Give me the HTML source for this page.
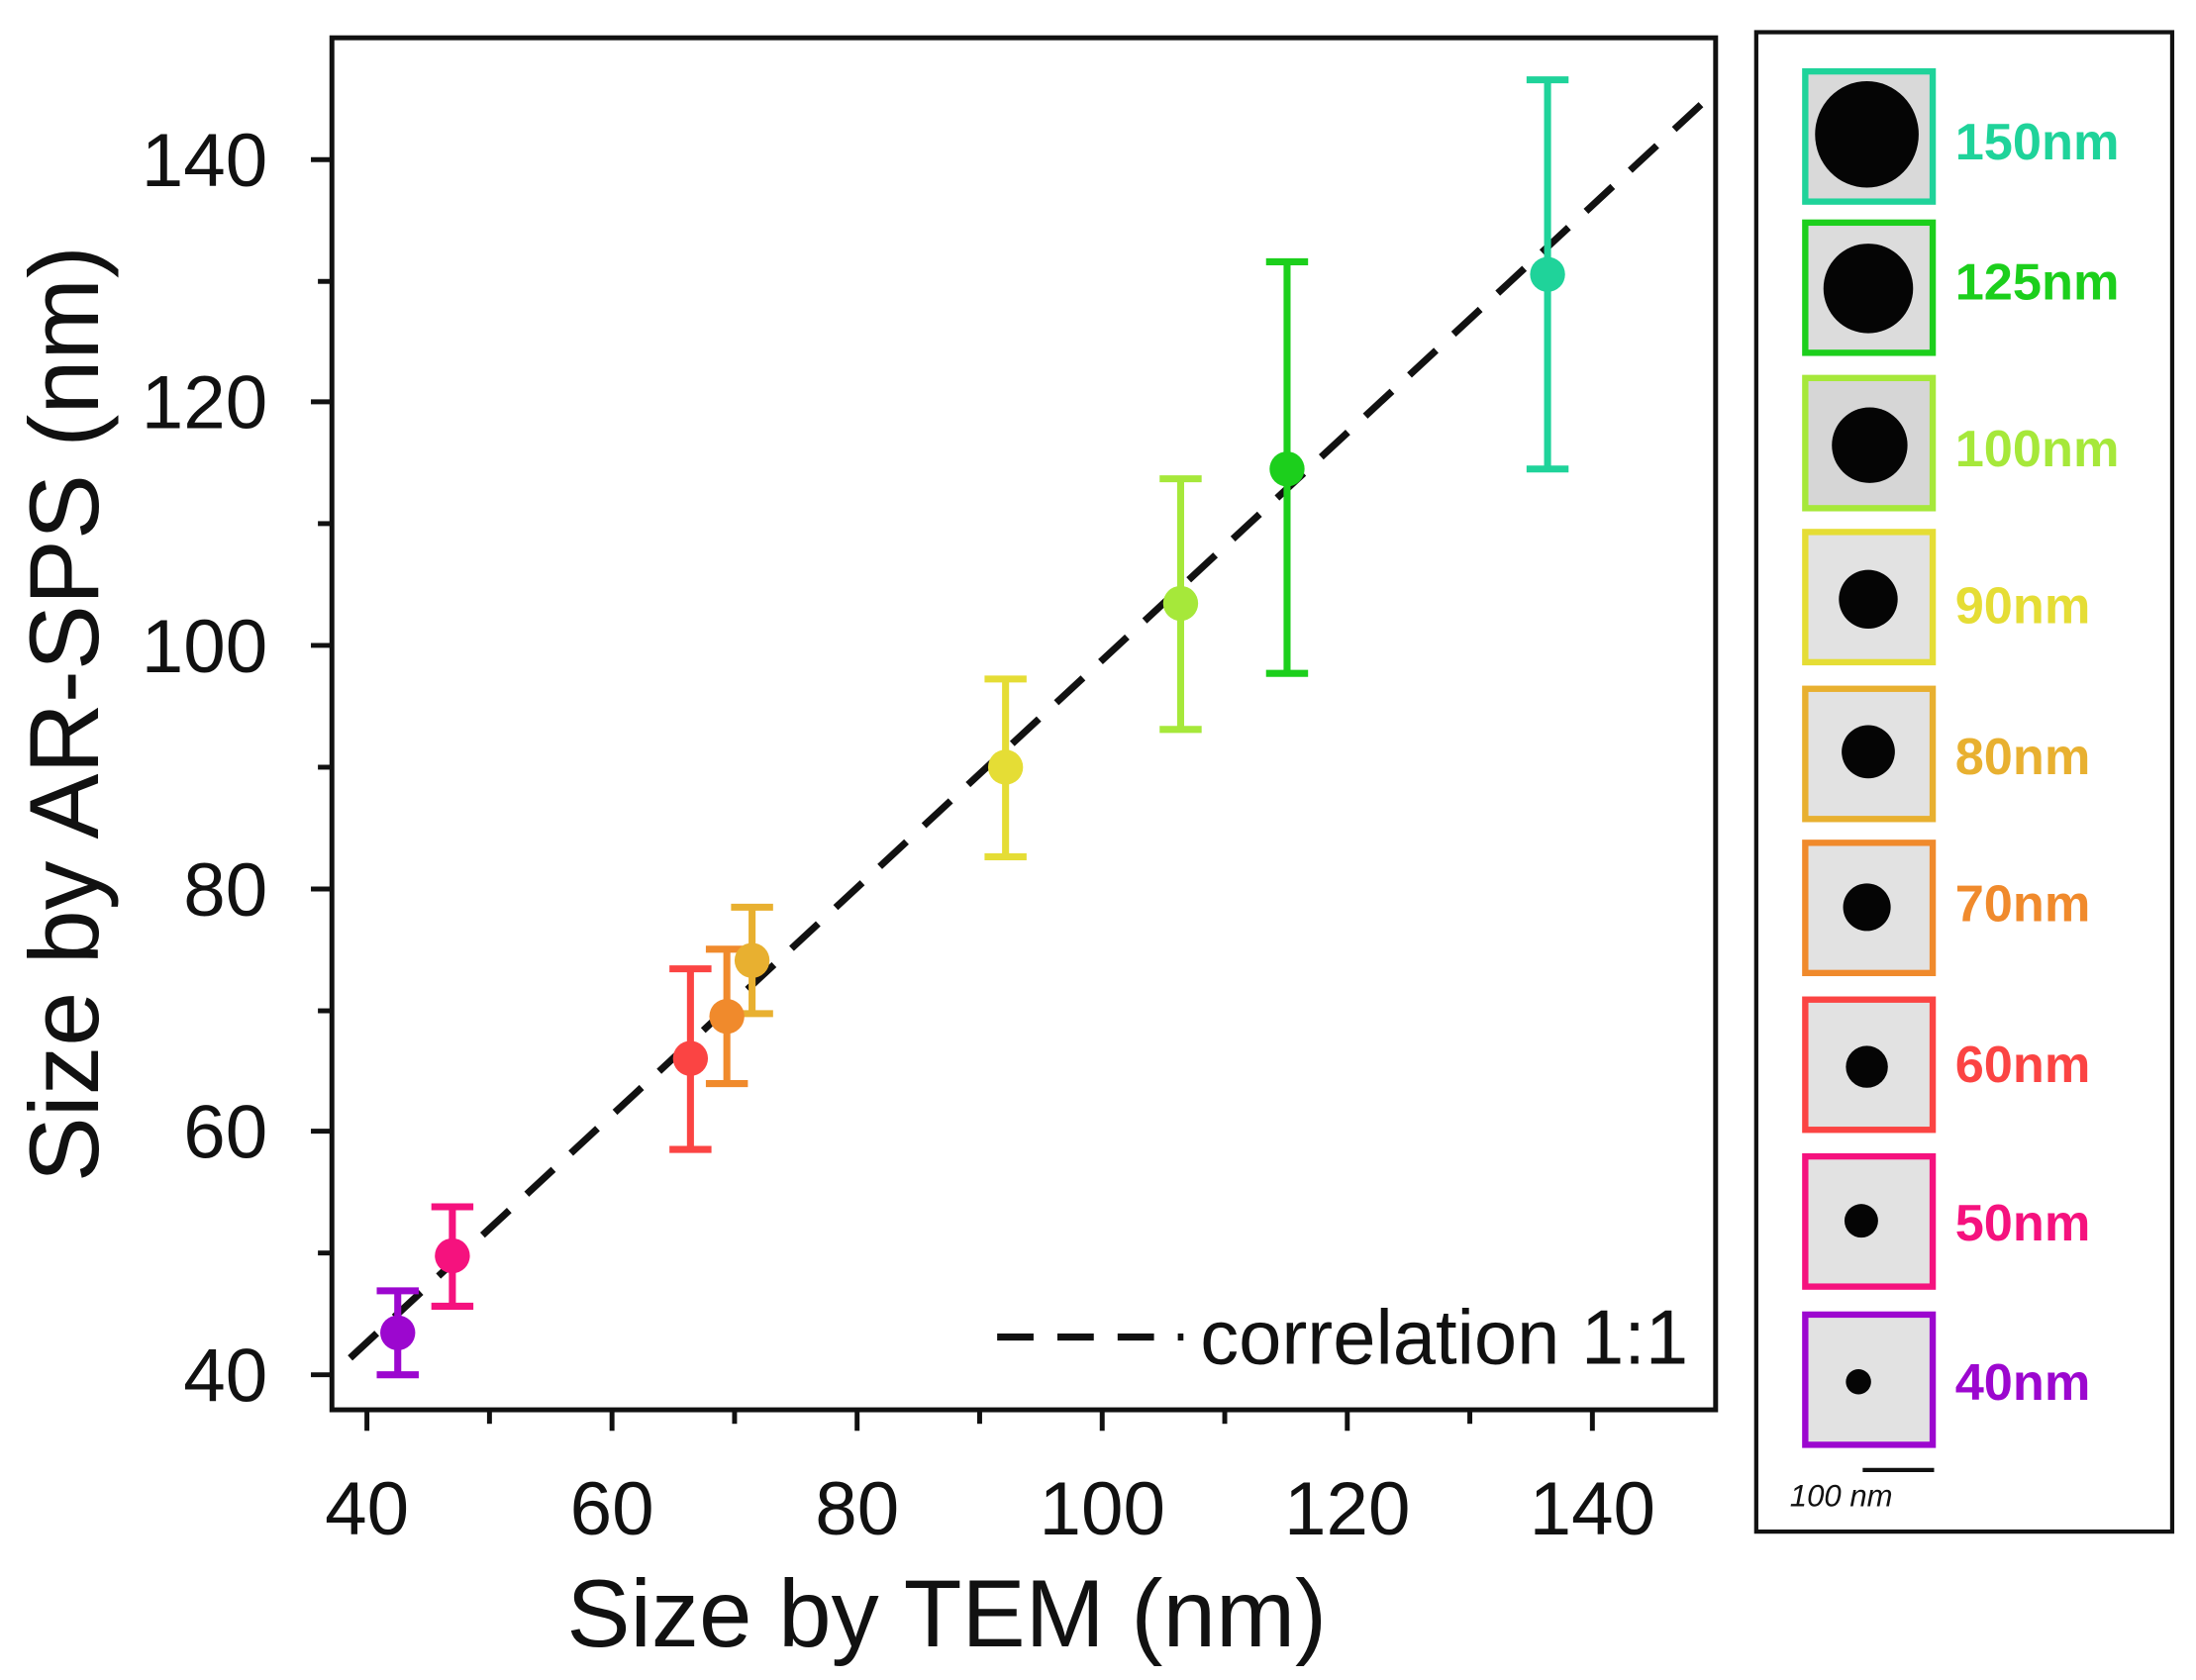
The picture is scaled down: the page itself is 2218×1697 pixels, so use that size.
<!DOCTYPE html>
<html><head><meta charset="utf-8"><style>html,body{margin:0;padding:0;background:#fff}svg{display:block}</style></head>
<body>
<svg width="2218" height="1697" viewBox="0 0 1568 1200" preserveAspectRatio="none" xmlns="http://www.w3.org/2000/svg" font-family="Liberation Sans, Arial, sans-serif">
<rect width="1568" height="1200" fill="#fff"/>
<rect x="237" y="27" width="988" height="980" fill="none" stroke="#111" stroke-width="3.5"/>
<g stroke="#111" stroke-width="3.5">
<line x1="262" y1="1007" x2="262" y2="1022"/><line x1="349.5" y1="1007" x2="349.5" y2="1017"/>
<line x1="437" y1="1007" x2="437" y2="1022"/><line x1="524.5" y1="1007" x2="524.5" y2="1017"/>
<line x1="612" y1="1007" x2="612" y2="1022"/><line x1="699.5" y1="1007" x2="699.5" y2="1017"/>
<line x1="787" y1="1007" x2="787" y2="1022"/><line x1="874.5" y1="1007" x2="874.5" y2="1017"/>
<line x1="962" y1="1007" x2="962" y2="1022"/><line x1="1049.5" y1="1007" x2="1049.5" y2="1017"/>
<line x1="1137" y1="1007" x2="1137" y2="1022"/>
<line x1="222" y1="982" x2="237" y2="982"/><line x1="227" y1="895" x2="237" y2="895"/>
<line x1="222" y1="808" x2="237" y2="808"/><line x1="227" y1="722" x2="237" y2="722"/>
<line x1="222" y1="635" x2="237" y2="635"/><line x1="227" y1="548" x2="237" y2="548"/>
<line x1="222" y1="461" x2="237" y2="461"/><line x1="227" y1="374" x2="237" y2="374"/>
<line x1="222" y1="287" x2="237" y2="287"/><line x1="227" y1="201" x2="237" y2="201"/>
<line x1="222" y1="114" x2="237" y2="114"/>
</g>
<g font-size="54" fill="#111" text-anchor="end">
<text x="191" y="1001">40</text><text x="191" y="827">60</text><text x="191" y="654">80</text>
<text x="191" y="480">100</text><text x="191" y="306">120</text><text x="191" y="133">140</text>
</g>
<g font-size="54" fill="#111" text-anchor="middle">
<text x="262" y="1096">40</text><text x="437" y="1096">60</text><text x="612" y="1096">80</text>
<text x="787" y="1096">100</text><text x="962" y="1096">120</text><text x="1137" y="1096">140</text>
</g>
<text x="676" y="1176" font-size="68" text-anchor="middle" fill="#111">Size by TEM (nm)</text>
<text transform="translate(70,510) rotate(-90)" font-size="70" text-anchor="middle" fill="#111">Size by AR-SPS (nm)</text>
<line x1="250" y1="970" x2="1225" y2="65" stroke="#111" stroke-width="5" stroke-dasharray="26,17"/>
<line x1="712" y1="955" x2="845" y2="955" stroke="#111" stroke-width="5" stroke-dasharray="26,17"/>
<text x="857" y="974" font-size="55" fill="#111">correlation 1:1</text>
<g stroke-width="5" fill="none">
<g stroke="#9c07cf"><line x1="284" y1="922" x2="284" y2="982"/><line x1="269" y1="922" x2="299" y2="922"/><line x1="269" y1="982" x2="299" y2="982"/></g>
<g stroke="#f5127e"><line x1="323" y1="862" x2="323" y2="933"/><line x1="308" y1="862" x2="338" y2="862"/><line x1="308" y1="933" x2="338" y2="933"/></g>
<g stroke="#fb4443"><line x1="493" y1="692" x2="493" y2="821"/><line x1="478" y1="692" x2="508" y2="692"/><line x1="478" y1="821" x2="508" y2="821"/></g>
<g stroke="#f08a2c"><line x1="519" y1="678" x2="519" y2="774"/><line x1="504" y1="678" x2="534" y2="678"/><line x1="504" y1="774" x2="534" y2="774"/></g>
<g stroke="#e8b030"><line x1="537" y1="648" x2="537" y2="724"/><line x1="522" y1="648" x2="552" y2="648"/><line x1="522" y1="724" x2="552" y2="724"/></g>
<g stroke="#e5dd35"><line x1="718" y1="485" x2="718" y2="612"/><line x1="703" y1="485" x2="733" y2="485"/><line x1="703" y1="612" x2="733" y2="612"/></g>
<g stroke="#a6e83a"><line x1="843" y1="342" x2="843" y2="521"/><line x1="828" y1="342" x2="858" y2="342"/><line x1="828" y1="521" x2="858" y2="521"/></g>
<g stroke="#1ccf1c"><line x1="919" y1="187" x2="919" y2="481"/><line x1="904" y1="187" x2="934" y2="187"/><line x1="904" y1="481" x2="934" y2="481"/></g>
<g stroke="#1fd39a"><line x1="1105" y1="57" x2="1105" y2="335"/><line x1="1090" y1="57" x2="1120" y2="57"/><line x1="1090" y1="335" x2="1120" y2="335"/></g>
</g>
<g>
<circle cx="284" cy="952" r="12.5" fill="#9c07cf"/>
<circle cx="323" cy="897" r="12.5" fill="#f5127e"/>
<circle cx="493" cy="756" r="12.5" fill="#fb4443"/>
<circle cx="519" cy="726" r="12.5" fill="#f08a2c"/>
<circle cx="537" cy="686" r="12.5" fill="#e8b030"/>
<circle cx="718" cy="548" r="12.5" fill="#e5dd35"/>
<circle cx="843" cy="431" r="12.5" fill="#a6e83a"/>
<circle cx="919" cy="335" r="12.5" fill="#1ccf1c"/>
<circle cx="1105" cy="196" r="12.5" fill="#1fd39a"/>
</g>
<rect x="1254" y="23" width="297" height="1071" fill="#fff" stroke="#111" stroke-width="3"/>
<g stroke-width="4.5">
<rect x="1289" y="51" width="91" height="93" fill="#d9d9d9" stroke="#1fd39a"/>
<rect x="1289" y="159" width="91" height="93" fill="#dcdcdc" stroke="#1ccf1c"/>
<rect x="1289" y="270" width="91" height="93" fill="#d6d6d6" stroke="#a6e83a"/>
<rect x="1289" y="380" width="91" height="93" fill="#e2e2e2" stroke="#e5dd35"/>
<rect x="1289" y="492" width="91" height="93" fill="#e2e2e2" stroke="#e8b030"/>
<rect x="1289" y="602" width="91" height="93" fill="#e2e2e2" stroke="#f08a2c"/>
<rect x="1289" y="714" width="91" height="93" fill="#e2e2e2" stroke="#fb4443"/>
<rect x="1289" y="826" width="91" height="93" fill="#e2e2e2" stroke="#f5127e"/>
<rect x="1289" y="939" width="91" height="93" fill="#e2e2e2" stroke="#9c07cf"/>
</g>
<g fill="#050505">
<ellipse cx="1333" cy="96" rx="37" ry="38"/>
<circle cx="1334" cy="206" r="32"/>
<circle cx="1335" cy="318" r="27"/>
<circle cx="1334" cy="428" r="21"/>
<circle cx="1334" cy="537" r="19"/>
<circle cx="1333" cy="648" r="17"/>
<circle cx="1333" cy="762" r="15"/>
<circle cx="1329" cy="872" r="12"/>
<circle cx="1327" cy="987" r="9"/>
</g>
<g font-size="37" font-weight="bold">
<text x="1396" y="114" fill="#1fd39a">150nm</text>
<text x="1396" y="214" fill="#1ccf1c">125nm</text>
<text x="1396" y="333" fill="#a6e83a">100nm</text>
<text x="1396" y="445" fill="#e5dd35">90nm</text>
<text x="1396" y="553" fill="#e8b030">80nm</text>
<text x="1396" y="658" fill="#f08a2c">70nm</text>
<text x="1396" y="773" fill="#fb4443">60nm</text>
<text x="1396" y="886" fill="#f5127e">50nm</text>
<text x="1396" y="1000" fill="#9c07cf">40nm</text>
</g>
<line x1="1330" y1="1050" x2="1381" y2="1050" stroke="#111" stroke-width="3"/>
<text x="1278" y="1076" font-size="22" font-style="italic" fill="#111">100 nm</text>
</svg>
</body></html>
